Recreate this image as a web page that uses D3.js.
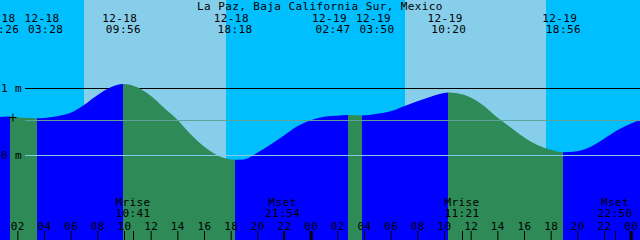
<!DOCTYPE html>
<html>
<head>
<meta charset="utf-8">
<script src="https://cdn.jsdelivr.net/npm/d3@7"></script>
<style>
  body { margin: 0; overflow: hidden; }
  svg { display: block; }
  text { font-family: "DejaVu Sans Mono", monospace; font-size: 11px; letter-spacing: 0.4px; fill: #000; }
</style>
</head>
<body>
<div id="chart"></div>
<script>
// Data (hours counted from 12-18 00:00)
const title = 'La Paz, Baja California Sur, Mexico'

const sampleHours = [0, 1, 2, 3, 4, 5, 6, 7, 8, 9, 11, 12, 13, 14, 15, 16, 17, 19, 20, 21, 22, 23, 24,
  25, 26, 29, 30, 31, 32, 33, 35, 36, 37, 38, 39, 40, 41, 42, 44, 45, 46, 47, 48, 49]
const sampleHeights = [0.564, 0.579, 0.572, 0.560, 0.560, 0.587, 0.639, 0.755, 0.900, 1.019, 1.020, 0.892,
  0.713, 0.534, 0.318, 0.134, 0.004, -0.058, 0.040, 0.165, 0.300, 0.437, 0.527,
  0.579, 0.595, 0.624, 0.661, 0.736, 0.810, 0.878, 0.928, 0.866, 0.739, 0.567, 0.418, 0.272, 0.157, 0.085,
  0.064, 0.131, 0.251, 0.378, 0.475, 0.557]

const tideEventHours = [1.433, 3.467, 9.933, 18.3, 26.783, 27.833, 34.333, 42.933]
const tideEventHeights = [0.582, 0.556, 1.069, -0.064, 0.603, 0.598, 0.940, 0.048]
const tideEventTypes = ['H', 'L', 'H', 'L', 'H', 'L', 'H', 'L']
const tideEventDates = ['12-18', '12-18', '12-18', '12-18', '12-19', '12-19', '12-19', '12-19']
const tideEventTimes = ['01:26', '03:28', '09:56', '18:18', '02:47', '03:50', '10:20', '18:56']

const sunriseHours = [7.0, 31.08]
const sunsetHours = [17.65, 41.65]

const moonEvents = ['Mrise', 'Mset', 'Mrise', 'Mset']
const moonHours = [10.683, 21.9, 35.35, 46.833]
const moonTimes = ['10:41', '21:54', '11:21', '22:50']

const hourTicks = d3.range(2, 49, 2)
const depthTicks = [0, 1]
const depthLabels = ['0 m', '1 m']
const mslHeight = 0.522
const markHour = 1.63
const markHeight = 0.58

// Dimensions
const dimensions = { width: 640, height: 240 }

const svg = d3.select('#chart')
  .append('svg')
  .attr('width', dimensions.width)
  .attr('height', dimensions.height)

// Scales
const xScale = d3.scaleLinear()
  .domain([0.7, 48.7])
  .range([0, dimensions.width])

const yScale = d3.scaleLinear()
  .domain([0, 1])
  .range([155.5, 88.5])

// Sky: night background, day bands
svg.append('rect')
  .attr('width', dimensions.width)
  .attr('height', dimensions.height)
  .attr('fill', '#00bfff')

svg.selectAll('rect.day')
  .data(sunriseHours)
  .join('rect')
  .attr('class', 'day')
  .attr('x', d => Math.round(xScale(d)))
  .attr('y', 0)
  .attr('width', (d, i) => Math.round(xScale(sunsetHours[i])) - Math.round(xScale(d)))
  .attr('height', dimensions.height)
  .attr('fill', '#87ceeb')

// 1 m line sits behind the water
svg.append('line')
  .attr('x1', 25).attr('x2', dimensions.width)
  .attr('y1', yScale(1)).attr('y2', yScale(1))
  .attr('stroke', '#000')

// Tide curve
const tidePoints = sampleHours.map((h, i) => ({ t: h, h: sampleHeights[i] }))
  .concat(tideEventHours.map((h, i) => ({ t: h, h: tideEventHeights[i] })))
  .sort((a, b) => a.t - b.t)

const area = d3.area()
  .x(d => xScale(d.t))
  .y0(dimensions.height)
  .y1(d => yScale(d.h))
  .curve(d3.curveMonotoneX)

svg.append('clipPath')
  .attr('id', 'tide-clip')
  .append('path')
  .attr('d', area(tidePoints))

const bounds = [xScale.domain()[0]].concat(tideEventHours, [xScale.domain()[1]])
const segments = d3.range(bounds.length - 1).map(i => ({
  t0: bounds[i],
  t1: bounds[i + 1],
  rising: i < tideEventTypes.length ? tideEventTypes[i] === 'H' : true
}))

svg.append('g')
  .attr('clip-path', 'url(#tide-clip)')
  .selectAll('rect')
  .data(segments)
  .join('rect')
  .attr('x', d => Math.round(xScale(d.t0)))
  .attr('y', 0)
  .attr('width', d => Math.round(xScale(d.t1)) - Math.round(xScale(d.t0)))
  .attr('height', dimensions.height)
  .attr('fill', d => d.rising ? '#0000ff' : '#2e8b57')

// Mean level and datum lines over the water
svg.append('line')
  .attr('x1', 25).attr('x2', dimensions.width)
  .attr('y1', yScale(mslHeight)).attr('y2', yScale(mslHeight))
  .attr('stroke', '#5fa39b')

svg.append('line')
  .attr('x1', 25).attr('x2', dimensions.width)
  .attr('y1', yScale(0)).attr('y2', yScale(0))
  .attr('stroke', '#80cce8')

svg.selectAll('text.depth')
  .data(depthTicks)
  .join('text')
  .attr('class', 'depth')
  .attr('x', 1)
  .attr('y', d => yScale(d) + 3.5)
  .text((d, i) => depthLabels[i])

// "+" mark on the curve
const mark = svg.append('g')
  .attr('transform', `translate(${xScale(markHour)}, ${Math.round(yScale(markHeight)) + 0.5})`)
  .attr('stroke', '#000')
mark.append('line').attr('x1', -4).attr('x2', 4)
mark.append('line').attr('x1', 0.5).attr('x2', 0.5).attr('y1', -4).attr('y2', 4)

// Title
svg.append('text')
  .attr('x', dimensions.width / 2)
  .attr('y', 10)
  .style('text-anchor', 'middle')
  .text(title)

// Tide event labels, pushed apart when they crowd
const minGap = 44
const labelCenters = tideEventHours.map(h => xScale(h) - 3.3)
for (let i = 1; i < labelCenters.length; i++) {
  const gap = labelCenters[i] - labelCenters[i - 1]
  if (gap < minGap) {
    const push = (minGap - gap) / 2
    labelCenters[i - 1] -= push
    labelCenters[i] += push
  }
}

svg.selectAll('text.date')
  .data(tideEventDates)
  .join('text')
  .attr('class', 'date')
  .attr('x', (d, i) => labelCenters[i])
  .attr('y', 21.5)
  .style('text-anchor', 'middle')
  .text(d => d)

svg.selectAll('text.time')
  .data(tideEventTimes)
  .join('text')
  .attr('class', 'time')
  .attr('x', (d, i) => labelCenters[i] + 3.6)
  .attr('y', 32.5)
  .style('text-anchor', 'middle')
  .text(d => d)

// Hour axis along the bottom
const xAxis = d3.axisTop(xScale)
  .tickValues(hourTicks)
  .tickSize(9)
  .tickPadding(1)
  .tickFormat(h => d3.format('02d')(h % 24))

const xAxisGroup = svg.append('g')
  .attr('transform', `translate(0, ${dimensions.height})`)
  .call(xAxis)

xAxisGroup.select('.domain').remove()
xAxisGroup.selectAll('text')
  .attr('fill', '#000')
  .style('font-size', '11px')
  .style('font-family', '"DejaVu Sans Mono", monospace')
xAxisGroup.selectAll('.tick line')
  .attr('stroke', '#000')
  .attr('stroke-width', d => d % 24 === 0 ? 3 : 1)

// Moon rise / set
svg.selectAll('line.moon')
  .data(moonHours)
  .join('line')
  .attr('class', 'moon')
  .attr('x1', d => Math.round(xScale(d)) + 0.5)
  .attr('x2', d => Math.round(xScale(d)) + 0.5)
  .attr('y1', 231)
  .attr('y2', dimensions.height)
  .attr('stroke', '#000')

svg.selectAll('text.moon-event')
  .data(moonEvents)
  .join('text')
  .attr('class', 'moon-event')
  .attr('x', (d, i) => xScale(moonHours[i]))
  .attr('y', 206)
  .style('text-anchor', 'middle')
  .text(d => d)

svg.selectAll('text.moon-time')
  .data(moonTimes)
  .join('text')
  .attr('class', 'moon-time')
  .attr('x', (d, i) => xScale(moonHours[i]))
  .attr('y', 217)
  .style('text-anchor', 'middle')
  .text(d => d)
</script>
</body>
</html>
